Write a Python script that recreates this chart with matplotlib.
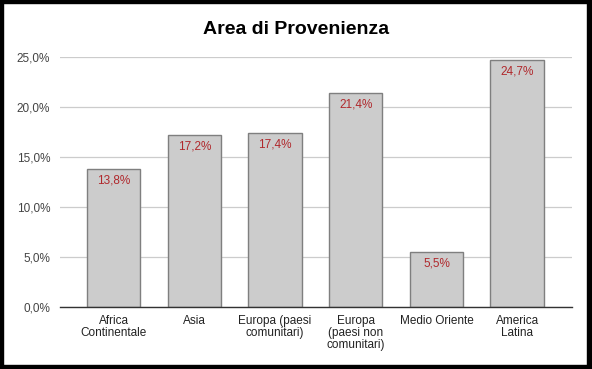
import matplotlib
matplotlib.use("Agg")
from matplotlib import pyplot as plt
from matplotlib.patches import Rectangle
from matplotlib.ticker import FuncFormatter

plt.rcParams['font.family'] = ['Liberation Sans', 'DejaVu Sans']

categories = ['Africa\nContinentale', 'Asia', 'Europa (paesi\ncomunitari)',
              'Europa\n(paesi non\ncomunitari)', 'Medio Oriente', 'America\nLatina']
values = [13.8, 17.2, 17.4, 21.4, 5.5, 24.7]
yticks = [0, 5, 10, 15, 20, 25]


def fmt_pct(v, pos=None):
    return ('%.1f%%' % v).replace('.', ',')


fig = plt.figure(figsize=(5.92, 3.69), dpi=100)
ax = fig.add_axes([60 / 592, 1 - 307 / 369, 512 / 592, 250 / 369])

x = list(range(len(values)))
ax.bar(x, values, width=0.66, color='#cccccc', edgecolor='#7f7f7f',
       linewidth=1.0, zorder=3)

for xi, v in zip(x, values):
    ax.annotate(fmt_pct(v), (xi, v), xytext=(0, -8.5), textcoords='offset points',
                ha='center', va='center', fontsize=8.5, color='#b0282c', zorder=4)

ax.set_xlim(-0.665, 5.68)
ax.set_ylim(0, 25)
ax.set_yticks(yticks)
ax.yaxis.set_major_formatter(FuncFormatter(fmt_pct))
ax.set_xticks(x)
ax.set_xticklabels(categories, fontsize=8.5, color='#222222', linespacing=1.0)
ax.tick_params(axis='y', labelsize=8.5, labelcolor='#444444', length=0, pad=7)
ax.tick_params(axis='x', length=0, pad=6)
ax.grid(axis='y', color='#cccccc', linewidth=0.9, zorder=0)
for side in ['top', 'right', 'left']:
    ax.spines[side].set_visible(False)
ax.spines['bottom'].set_color('#333333')
ax.spines['bottom'].set_linewidth(1.0)
ax.spines['bottom'].set_zorder(5)

fig.text(0.5, 1 - 30 / 369, 'Area di Provenienza', ha='center', va='center',
         fontsize=14, fontweight='bold', color='#000000')

# black frame with heavier right/bottom edge
W, H = 592.0, 369.0
fig.patches.append(Rectangle((0, 0), 2.5 / W, 1, transform=fig.transFigure,
                             color='black', zorder=10))
fig.patches.append(Rectangle((0, 1 - 2.5 / H), 1, 2.5 / H, transform=fig.transFigure,
                             color='black', zorder=10))
fig.patches.append(Rectangle((1 - 4.8 / W, 0), 4.8 / W, 1, transform=fig.transFigure,
                             color='black', zorder=10))
fig.patches.append(Rectangle((0, 0), 1, 4.2 / H, transform=fig.transFigure,
                             color='black', zorder=10))

fig.savefig('out.png', dpi=100)
